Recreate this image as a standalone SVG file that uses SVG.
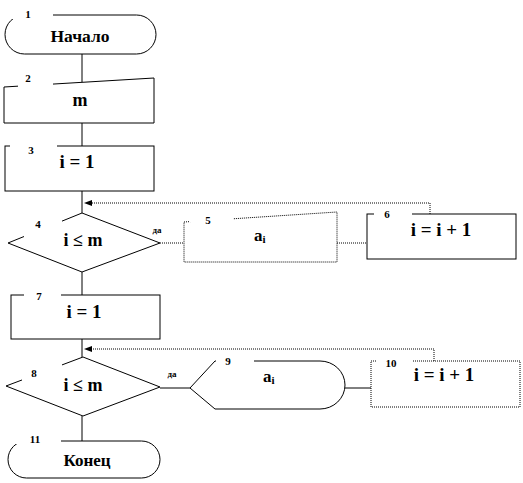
<svg xmlns="http://www.w3.org/2000/svg" width="523" height="483" viewBox="0 0 523 483">
<style>
.s{fill:none;stroke:#000;stroke-width:1}
.d{fill:none;stroke:#000;stroke-width:1;stroke-dasharray:1 1}
.w{fill:#fff;stroke:none}
text{font-family:"Liberation Serif","Times New Roman",serif;font-weight:bold;fill:#000}
.m{font-size:18px;text-anchor:middle}
.e{font-size:19px;text-anchor:middle}
.n{font-size:11px;text-anchor:middle}
.y{font-size:9px;text-anchor:middle}
</style>
<rect width="523" height="483" fill="#fff"/>
<g id="connectors">
<line class="s" x1="82" y1="54" x2="82" y2="82"/>
<line class="s" x1="82" y1="123" x2="82" y2="146"/>
<line class="s" x1="82" y1="191" x2="82" y2="213"/>
<polyline class="d" points="430,214 430,203 92,203"/>
<path d="M92,200 L84,203 L92,206 Z" fill="#000"/>
<line class="d" x1="160" y1="243" x2="184" y2="243"/>
<line class="d" x1="337" y1="243" x2="367" y2="243"/>
<line class="s" x1="82" y1="272" x2="82" y2="295"/>
<line class="s" x1="82" y1="339" x2="82" y2="357"/>
<polyline class="d" points="434,361 434,349 92,349"/>
<path d="M92,346 L84,349 L92,352 Z" fill="#000"/>
<line class="s" x1="160" y1="388" x2="190" y2="388"/>
<line class="s" x1="345" y1="388" x2="371" y2="388"/>
<line class="s" x1="82" y1="416" x2="82" y2="441"/>
</g>
<g id="n1">
<rect class="s" x="5" y="15" width="151" height="39" rx="19.5" ry="19.5"/>
<rect class="w" x="12" y="5" width="41" height="14"/>
<text class="n" x="28" y="18">1</text>
<text x="80" y="42" font-size="17.5" text-anchor="middle">Начало</text>
</g>
<g id="n2">
<path class="s" d="M4,87 L154,78 L154,123 L4,123 Z"/>
<rect class="w" x="18" y="72" width="35" height="15"/>
<text class="n" x="28" y="82">2</text>
<text class="m" x="80" y="106">m</text>
</g>
<g id="n3">
<rect class="s" x="5" y="146" width="149" height="45"/>
<rect class="w" x="10" y="138" width="47" height="10"/>
<text class="n" x="31" y="154">3</text>
<text class="e" x="77" y="168">i = 1</text>
</g>
<g id="n4">
<path class="s" d="M82,213 L160,243 L82,272 L8,243 Z"/>
<rect class="w" x="24" y="214" width="38" height="24"/>
<text class="n" x="38" y="228">4</text>
<text class="m" x="83" y="246">i ≤ m</text>
<text class="y" x="157" y="233">да</text>
</g>
<g id="n5">
<path class="d" d="M184,222 L337,212 L337,262 L184,262 Z"/>
<rect class="w" x="189" y="207" width="44" height="15"/>
<text class="n" x="208" y="224">5</text>
<text x="254" y="241" font-size="17">a<tspan font-size="11" dy="2">i</tspan></text>
</g>
<g id="n6">
<rect class="s" x="367" y="214" width="149" height="45"/>
<rect class="w" x="374" y="206" width="38" height="10"/>
<text class="n" x="387" y="218">6</text>
<text class="e" x="441" y="236">i = i + 1</text>
</g>
<g id="n7">
<rect class="s" x="11" y="295" width="149" height="44"/>
<rect class="w" x="24" y="287" width="37" height="10"/>
<text class="n" x="39" y="300">7</text>
<text class="e" x="84" y="318">i = 1</text>
</g>
<g id="n8">
<path class="s" d="M83,357 L160,387 L83,416 L6,386 Z"/>
<rect class="w" x="22" y="360" width="40" height="22"/>
<text class="n" x="34" y="377">8</text>
<text class="m" x="83" y="391">i ≤ m</text>
<text class="y" x="172" y="377">да</text>
</g>
<g id="n9">
<path class="s" d="M190,388 L215,361 L320,361 A25,24 0 0 1 320,409 L215,409 Z"/>
<rect class="w" x="216" y="352" width="38" height="12"/>
<text class="n" x="228" y="365">9</text>
<text x="263" y="382" font-size="17">a<tspan font-size="11" dy="2">i</tspan></text>
</g>
<g id="n10">
<rect class="d" x="371" y="361" width="149" height="46"/>
<rect class="w" x="377" y="353" width="36" height="10"/>
<text class="n" x="391" y="367">10</text>
<text class="e" x="444" y="381">i = i + 1</text>
</g>
<g id="n11">
<rect class="s" x="8" y="441" width="152" height="37" rx="18.5" ry="18.5"/>
<rect class="w" x="15" y="431" width="46" height="13"/>
<text class="n" x="35" y="443">11</text>
<text x="87" y="466" font-size="17" text-anchor="middle">Конец</text>
</g>
</svg>
